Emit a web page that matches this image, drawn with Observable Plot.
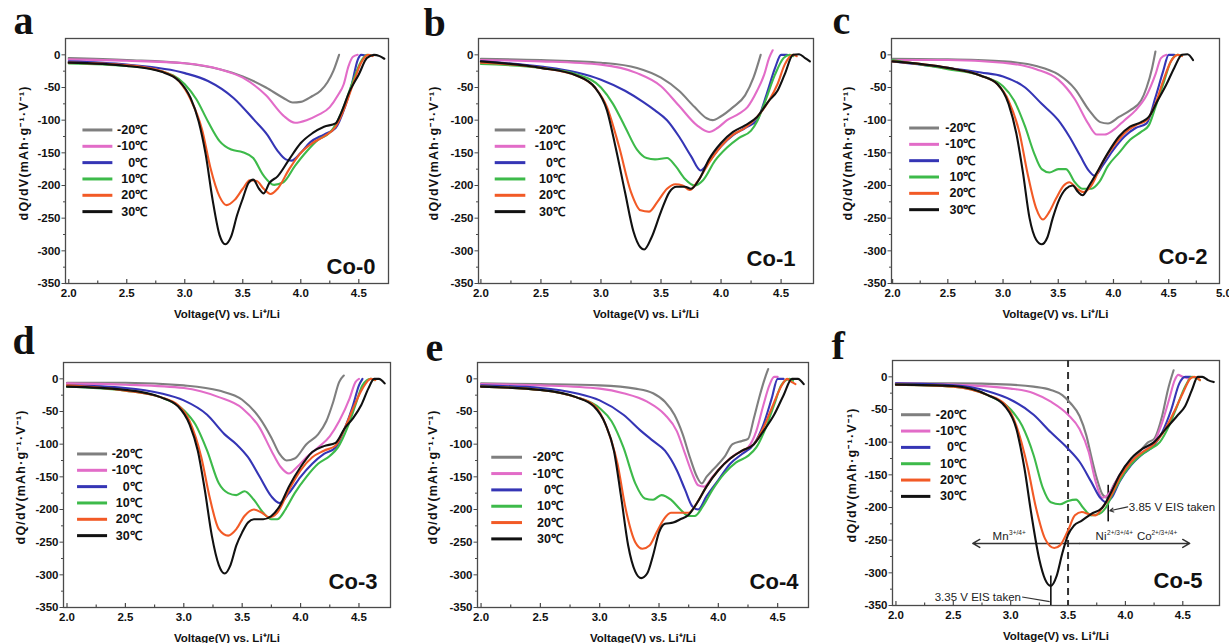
<!DOCTYPE html>
<html><head><meta charset="utf-8">
<script src="https://cdn.jsdelivr.net/npm/d3@7"></script>
<script src="https://cdn.jsdelivr.net/npm/@observablehq/plot@0.6"></script>
<style>
body{margin:0;background:#fff}
#wrap{position:relative;width:1229px;height:643px;overflow:hidden;background:#fff}
#wrap svg{position:absolute}
</style>
</head><body><div id="wrap"></div>
<script>
// ---------- data ----------
const temps = ["-20℃","-10℃","0℃","10℃","20℃","30℃"];
const colors = ["#7f7f7f","#e26cc8","#3535b5","#3dba4a","#f25a26","#111111"];
const sampleNames = ["Co-0","Co-1","Co-2","Co-3","Co-4","Co-5"];
const panelLetters = ["a","b","c","d","e","f"];
const xTicksMajor = [2.0,2.5,3.0,3.5,4.0,4.5];
const xTicksMajorC = [2.0,2.5,3.0,3.5,4.0,4.5,5.0];
const yTicksMajor = [-350,-300,-250,-200,-150,-100,-50,0];
const yLabel = "dQ/dV(mAh·g⁻¹·V⁻¹)";
const xLabel = "Voltage(V) vs. Li⁺/Li";
const eisVoltages = [3.35, 3.85];
const eisLabels = ["3.35 V EIS taken", "3.85 V EIS taken"];
const dividerVoltage = 3.5;
const ionLabels = [["Mn","3+/4+"],["Ni","2+/3+/4+"],["Co","2+/3+/4+"]];

// curves: order -20,-10,0,10,20,30 ℃ ; [voltage, dQ/dV]
const co0 = [
 [[2.0,-5],[2.5,-8],[3.0,-13],[3.3,-22],[3.5,-33],[3.7,-50],[3.85,-66],[3.93,-73],[4.0,-72],[4.1,-63],[4.17,-55],[4.23,-42],[4.28,-25],[4.33,0]],
 [[2.0,-7],[2.5,-9],[3.0,-13],[3.3,-22],[3.5,-35],[3.7,-62],[3.85,-93],[3.95,-104],[4.05,-100],[4.15,-92],[4.25,-80],[4.32,-62],[4.37,-45],[4.41,-18],[4.45,-3],[4.49,0]],
 [[2.0,-10],[2.5,-15],[3.0,-28],[3.2,-40],[3.42,-66],[3.6,-100],[3.71,-122],[3.8,-147],[3.87,-160],[3.92,-162],[4.0,-150],[4.08,-134],[4.2,-122],[4.3,-112],[4.38,-80],[4.44,-45],[4.49,-8],[4.52,0],[4.56,-1]],
 [[2.0,-13],[2.5,-17],[2.8,-25],[3.0,-45],[3.1,-68],[3.2,-102],[3.3,-132],[3.4,-145],[3.5,-149],[3.59,-158],[3.68,-185],[3.77,-199],[3.85,-195],[3.95,-170],[4.05,-148],[4.15,-130],[4.25,-119],[4.3,-107],[4.38,-75],[4.45,-40],[4.52,-10],[4.57,0],[4.6,-1]],
 [[2.0,-12],[2.5,-16],[2.8,-25],[2.95,-40],[3.05,-68],[3.15,-115],[3.22,-172],[3.3,-217],[3.36,-230],[3.43,-222],[3.5,-205],[3.56,-192],[3.62,-193],[3.68,-205],[3.74,-213],[3.8,-205],[3.9,-175],[4.0,-150],[4.1,-135],[4.2,-125],[4.3,-110],[4.38,-80],[4.45,-45],[4.52,-12],[4.58,0],[4.62,-2]],
 [[2.0,-12],[2.5,-17],[2.8,-26],[2.95,-40],[3.05,-66],[3.12,-102],[3.18,-152],[3.24,-222],[3.3,-276],[3.35,-290],[3.4,-278],[3.45,-246],[3.5,-220],[3.55,-196],[3.59,-191],[3.64,-205],[3.68,-212],[3.73,-196],[3.8,-186],[3.9,-160],[4.0,-135],[4.1,-120],[4.2,-110],[4.3,-105],[4.35,-88],[4.42,-56],[4.5,-30],[4.57,-5],[4.63,0],[4.68,-2],[4.72,-6]]
];
const co1 = [
 [[2.0,-6],[2.5,-8],[3.0,-12],[3.3,-20],[3.5,-35],[3.65,-55],[3.78,-80],[3.88,-97],[3.93,-100],[4.0,-94],[4.1,-80],[4.2,-62],[4.27,-35],[4.33,0]],
 [[2.0,-8],[2.5,-10],[3.0,-15],[3.3,-28],[3.5,-48],[3.65,-78],[3.8,-108],[3.9,-118],[3.97,-112],[4.05,-100],[4.15,-90],[4.22,-80],[4.3,-55],[4.36,-30],[4.4,-5],[4.43,7]],
 [[2.0,-10],[2.5,-18],[2.8,-27],[3.0,-38],[3.2,-55],[3.35,-72],[3.45,-85],[3.55,-100],[3.65,-125],[3.75,-155],[3.83,-177],[3.9,-163],[4.0,-140],[4.1,-123],[4.2,-112],[4.3,-100],[4.38,-60],[4.45,-20],[4.5,0],[4.55,0]],
 [[2.0,-14],[2.5,-20],[2.8,-30],[3.0,-50],[3.1,-75],[3.2,-110],[3.3,-145],[3.38,-158],[3.45,-160],[3.55,-158],[3.62,-170],[3.7,-190],[3.78,-200],[3.85,-192],[3.95,-162],[4.05,-142],[4.15,-127],[4.25,-116],[4.3,-102],[4.37,-70],[4.45,-30],[4.52,-5],[4.57,0],[4.6,-2]],
 [[2.0,-12],[2.5,-20],[2.8,-32],[2.95,-50],[3.05,-80],[3.15,-140],[3.25,-210],[3.33,-238],[3.4,-240],[3.47,-225],[3.55,-205],[3.62,-198],[3.68,-200],[3.74,-207],[3.8,-195],[3.9,-165],[4.0,-140],[4.1,-122],[4.2,-112],[4.3,-95],[4.4,-70],[4.47,-45],[4.53,-15],[4.6,0],[4.63,-2]],
 [[2.0,-10],[2.5,-20],[2.8,-32],[2.95,-50],[3.05,-85],[3.12,-140],[3.2,-210],[3.27,-270],[3.33,-295],[3.36,-298],[3.42,-280],[3.5,-240],[3.57,-210],[3.63,-202],[3.7,-202],[3.75,-205],[3.82,-190],[3.9,-160],[4.0,-135],[4.1,-118],[4.2,-108],[4.3,-95],[4.4,-70],[4.47,-55],[4.53,-30],[4.6,0],[4.65,1],[4.7,-5],[4.74,-10]]
];
const co2 = [
 [[2.0,-6],[2.5,-7],[3.0,-10],[3.3,-17],[3.5,-30],[3.65,-52],[3.78,-85],[3.88,-103],[3.95,-105],[4.05,-95],[4.15,-85],[4.25,-70],[4.3,-50],[4.35,-20],[4.38,5]],
 [[2.0,-8],[2.5,-8],[3.0,-12],[3.3,-22],[3.5,-38],[3.65,-68],[3.77,-105],[3.85,-122],[3.92,-122],[4.0,-115],[4.1,-100],[4.2,-85],[4.3,-62],[4.38,-30],[4.43,-5],[4.48,0]],
 [[2.0,-10],[2.5,-20],[2.8,-27],[3.0,-33],[3.2,-50],[3.35,-75],[3.5,-100],[3.6,-125],[3.7,-155],[3.78,-178],[3.83,-185],[3.9,-170],[4.0,-145],[4.1,-125],[4.2,-112],[4.3,-105],[4.38,-65],[4.45,-25],[4.5,0],[4.55,0]],
 [[2.0,-8],[2.5,-22],[2.8,-32],[3.0,-48],[3.1,-70],[3.2,-110],[3.28,-150],[3.35,-175],[3.42,-180],[3.5,-175],[3.57,-175],[3.65,-195],[3.72,-205],[3.8,-205],[3.87,-195],[3.95,-170],[4.05,-150],[4.15,-130],[4.25,-118],[4.32,-108],[4.38,-80],[4.45,-45],[4.52,-10],[4.58,0],[4.62,-1]],
 [[2.0,-10],[2.5,-20],[2.8,-32],[2.95,-45],[3.05,-70],[3.15,-120],[3.22,-180],[3.3,-235],[3.36,-252],[3.42,-240],[3.48,-220],[3.55,-200],[3.6,-195],[3.67,-205],[3.73,-210],[3.8,-200],[3.9,-165],[4.0,-140],[4.1,-120],[4.2,-108],[4.3,-100],[4.38,-75],[4.45,-40],[4.52,-10],[4.58,0],[4.62,-2]],
 [[2.0,-10],[2.5,-20],[2.8,-32],[2.95,-45],[3.05,-75],[3.12,-120],[3.18,-180],[3.24,-250],[3.3,-283],[3.35,-290],[3.4,-280],[3.45,-250],[3.5,-225],[3.57,-205],[3.63,-200],[3.68,-210],[3.72,-215],[3.78,-200],[3.85,-180],[3.95,-150],[4.05,-125],[4.15,-110],[4.25,-103],[4.32,-95],[4.4,-70],[4.48,-45],[4.55,-20],[4.62,0],[4.67,1],[4.72,-8]]
];
const co3 = [
 [[2.0,-6],[2.5,-6],[3.0,-10],[3.3,-18],[3.5,-32],[3.65,-60],[3.75,-90],[3.82,-115],[3.88,-125],[3.95,-122],[4.05,-100],[4.15,-85],[4.22,-65],[4.28,-35],[4.33,-5],[4.37,5]],
 [[2.0,-7],[2.5,-9],[3.0,-14],[3.3,-28],[3.5,-45],[3.65,-75],[3.75,-110],[3.83,-135],[3.9,-145],[3.97,-135],[4.05,-120],[4.15,-105],[4.25,-88],[4.33,-65],[4.42,-30],[4.47,-5],[4.5,0]],
 [[2.0,-10],[2.5,-14],[2.8,-22],[3.0,-33],[3.2,-55],[3.35,-85],[3.45,-100],[3.55,-120],[3.65,-150],[3.75,-180],[3.82,-190],[3.9,-175],[4.0,-150],[4.1,-130],[4.2,-115],[4.3,-105],[4.38,-75],[4.45,-40],[4.5,-10],[4.53,0]],
 [[2.0,-12],[2.5,-18],[2.8,-28],[3.0,-48],[3.1,-70],[3.2,-110],[3.3,-160],[3.38,-175],[3.45,-178],[3.52,-172],[3.6,-185],[3.68,-205],[3.75,-215],[3.8,-215],[3.87,-200],[3.95,-175],[4.05,-150],[4.15,-130],[4.25,-118],[4.32,-105],[4.4,-75],[4.47,-40],[4.53,-10],[4.6,0],[4.63,-2]],
 [[2.0,-10],[2.5,-18],[2.8,-28],[2.95,-40],[3.05,-65],[3.15,-120],[3.22,-180],[3.3,-230],[3.38,-240],[3.45,-230],[3.52,-210],[3.6,-200],[3.67,-205],[3.73,-212],[3.8,-205],[3.9,-170],[4.0,-140],[4.1,-120],[4.2,-110],[4.3,-102],[4.38,-75],[4.45,-45],[4.53,-15],[4.6,0],[4.64,-2]],
 [[2.0,-12],[2.5,-17],[2.8,-28],[2.95,-42],[3.05,-70],[3.12,-110],[3.18,-170],[3.24,-240],[3.3,-285],[3.35,-298],[3.4,-285],[3.45,-255],[3.5,-235],[3.55,-220],[3.6,-215],[3.68,-215],[3.75,-210],[3.82,-195],[3.9,-165],[4.0,-135],[4.1,-112],[4.2,-103],[4.3,-98],[4.38,-75],[4.45,-60],[4.52,-40],[4.58,-15],[4.63,0],[4.67,0],[4.72,-7]]
];
const co4 = [
 [[2.0,-7],[2.5,-8],[3.0,-10],[3.3,-15],[3.45,-22],[3.55,-35],[3.63,-55],[3.7,-85],[3.76,-120],[3.82,-150],[3.86,-160],[3.9,-150],[3.95,-140],[4.05,-120],[4.12,-100],[4.2,-95],[4.25,-92],[4.3,-60],[4.35,-25],[4.4,5],[4.42,15]],
 [[2.0,-8],[2.5,-10],[3.0,-15],[3.2,-22],[3.4,-35],[3.55,-55],[3.65,-80],[3.72,-115],[3.78,-145],[3.83,-163],[3.88,-165],[3.95,-150],[4.05,-130],[4.15,-115],[4.25,-105],[4.32,-80],[4.38,-40],[4.43,-10],[4.47,3],[4.5,3]],
 [[2.0,-10],[2.5,-14],[2.8,-22],[3.0,-33],[3.2,-55],[3.35,-80],[3.45,-95],[3.55,-110],[3.65,-140],[3.72,-170],[3.78,-195],[3.83,-200],[3.9,-180],[4.0,-155],[4.1,-130],[4.2,-115],[4.3,-100],[4.38,-70],[4.45,-30],[4.5,0],[4.55,0]],
 [[2.0,-12],[2.5,-17],[2.8,-28],[3.0,-45],[3.1,-65],[3.2,-105],[3.3,-160],[3.38,-183],[3.45,-185],[3.52,-178],[3.6,-185],[3.68,-200],[3.75,-210],[3.8,-210],[3.87,-195],[3.95,-170],[4.05,-145],[4.15,-128],[4.25,-118],[4.32,-105],[4.4,-75],[4.47,-40],[4.53,-10],[4.6,0],[4.63,-3]],
 [[2.0,-12],[2.5,-17],[2.8,-28],[2.95,-40],[3.05,-70],[3.15,-130],[3.22,-200],[3.3,-250],[3.36,-260],[3.42,-255],[3.48,-235],[3.54,-215],[3.6,-205],[3.68,-205],[3.75,-205],[3.82,-190],[3.9,-165],[4.0,-140],[4.1,-122],[4.2,-110],[4.3,-100],[4.38,-75],[4.45,-45],[4.52,-15],[4.58,0],[4.62,-5],[4.65,-8]],
 [[2.0,-12],[2.5,-17],[2.8,-28],[2.95,-42],[3.05,-70],[3.12,-110],[3.18,-180],[3.24,-255],[3.3,-295],[3.35,-305],[3.4,-298],[3.45,-270],[3.5,-235],[3.55,-222],[3.62,-220],[3.68,-215],[3.75,-208],[3.82,-190],[3.9,-165],[4.0,-140],[4.1,-122],[4.2,-110],[4.3,-100],[4.38,-80],[4.47,-55],[4.55,-25],[4.62,0],[4.67,0],[4.72,-8]]
];
const co5 = [
 [[2.0,-10],[2.5,-10],[3.0,-12],[3.2,-15],[3.35,-20],[3.45,-28],[3.52,-40],[3.6,-60],[3.66,-90],[3.7,-120],[3.75,-155],[3.8,-180],[3.84,-185],[3.9,-165],[4.0,-140],[4.1,-120],[4.2,-100],[4.25,-95],[4.32,-60],[4.37,-20],[4.42,10]],
 [[2.0,-10],[2.5,-12],[3.0,-18],[3.2,-25],[3.35,-38],[3.5,-58],[3.6,-80],[3.68,-115],[3.74,-160],[3.8,-185],[3.85,-180],[3.95,-150],[4.05,-130],[4.15,-115],[4.25,-100],[4.32,-70],[4.38,-35],[4.43,-5],[4.46,3],[4.5,0],[4.55,-3]],
 [[2.0,-10],[2.5,-13],[2.8,-22],[3.0,-35],[3.2,-58],[3.35,-85],[3.5,-110],[3.6,-130],[3.7,-160],[3.78,-185],[3.83,-192],[3.88,-185],[3.95,-160],[4.05,-135],[4.15,-118],[4.25,-105],[4.32,-85],[4.4,-50],[4.47,-10],[4.52,0],[4.57,0]],
 [[2.0,-12],[2.5,-15],[2.8,-28],[3.0,-50],[3.1,-75],[3.2,-120],[3.28,-170],[3.35,-192],[3.43,-195],[3.5,-190],[3.57,-188],[3.63,-200],[3.7,-212],[3.77,-210],[3.83,-200],[3.9,-175],[4.0,-145],[4.1,-125],[4.2,-112],[4.3,-100],[4.38,-75],[4.45,-45],[4.52,-15],[4.58,0],[4.62,-2],[4.65,-5]],
 [[2.0,-12],[2.5,-15],[2.8,-28],[2.95,-42],[3.05,-75],[3.15,-140],[3.22,-200],[3.3,-248],[3.38,-262],[3.43,-258],[3.5,-235],[3.56,-212],[3.62,-207],[3.68,-210],[3.74,-212],[3.8,-200],[3.88,-180],[3.95,-155],[4.05,-130],[4.15,-115],[4.25,-103],[4.33,-85],[4.42,-55],[4.5,-25],[4.57,-2],[4.6,0],[4.65,-5]],
 [[2.0,-12],[2.5,-14],[2.8,-28],[2.95,-45],[3.05,-80],[3.12,-140],[3.18,-210],[3.25,-280],[3.3,-310],[3.35,-320],[3.4,-305],[3.45,-270],[3.5,-242],[3.55,-228],[3.62,-220],[3.7,-210],[3.8,-200],[3.88,-175],[3.95,-150],[4.05,-125],[4.15,-110],[4.25,-100],[4.35,-80],[4.45,-60],[4.52,-45],[4.58,-20],[4.63,0],[4.67,0],[4.72,-5],[4.77,-8]]
];
const panelCurves = [co0, co1, co2, co3, co4, co5];

// ---------- layout (pixels / placement only) ----------
// m: [top, right, bottom, left]; leg: [lineX1, lineX2, textX, firstRowY]
const layout = [
 {left:0,   top:0,   w:410, h:322, m:[38,22,39,65], xd:[1.972,4.756], leg:[2.118,2.376,2.676,-115], name:[-13,-10], letter:[-52,-5], ylab:-42},
 {left:410, top:0,   w:410, h:322, m:[38,7,39,68],  xd:[1.98,4.77],   leg:[2.115,2.37,2.70,-115],  name:[-18,-18], letter:[-55,-3], ylab:-45},
 {left:819, top:0,   w:410, h:322, m:[38,10,39,72], xd:[1.99,4.96],   leg:[2.15,2.42,2.75,-112],   name:[-12,-20], letter:[-59,-5], ylab:-44},
 {left:0,   top:321, w:410, h:322, m:[41,20,36,63], xd:[1.97,4.77],   leg:[2.086,2.343,2.64,-115], name:[-13,-19], letter:[-51,-9], ylab:-43},
 {left:410, top:321, w:410, h:322, m:[41,12,36,67], xd:[1.97,4.76],   leg:[2.086,2.345,2.69,-120], name:[-10,-19], letter:[-52,-2], ylab:-45},
 {left:819, top:321, w:410, h:322, m:[39,10,38,73], xd:[1.97,4.82],   leg:[2.044,2.30,2.61,-58],   name:[-17,-18], letter:[-61,-2], ylab:-41}
];

const AX = "#4a4a4a";
const wrap = document.getElementById("wrap");

function annotationsF() {
  const ink = "#333";
  return [
    Plot.ruleX([dividerVoltage], {x: d => d, stroke: ink, strokeWidth: 2, strokeDasharray: "7,5"}),
    Plot.ruleX([eisVoltages[0]], {x: d => d, y1: -350, y2: -305, stroke: "#111", strokeWidth: 1.6}),
    Plot.ruleX([eisVoltages[1]], {x: d => d, y1: -222, y2: -166, stroke: "#111", strokeWidth: 1.6}),
    Plot.arrow([2.67, 4.56], {x1: 3.6, y1: -255, x2: d => d, y2: -255, stroke: ink, strokeWidth: 1.5, headLength: 8, bend: 0}),
    Plot.text([eisLabels[0]], {x: 3.09, y: -337, text: d => d, textAnchor: "end", fontSize: 11.5, fontWeight: "normal", fill: "#222"}),
    Plot.link([0], {x1: 3.10, y1: -337, x2: eisVoltages[0] - 0.01, y2: -344, stroke: ink, strokeWidth: 1.2}),
    Plot.text([eisLabels[1]], {x: 4.03, y: -199, text: d => d, textAnchor: "start", fontSize: 11.5, fontWeight: "normal", fill: "#222"}),
    Plot.arrow([0], {x1: 4.02, y1: -199, x2: eisVoltages[1] + 0.015, y2: -205, stroke: ink, strokeWidth: 1.2, headLength: 5, bend: 0}),
    Plot.text([ionLabels[0][0]], {x: 2.842, y: -249, text: d => d, textAnchor: "start", lineAnchor: "bottom", fontSize: 11.5, fontWeight: "normal", fill: "#222"}),
    Plot.text([ionLabels[0][1]], {x: 2.842, y: -249, dx: 16.5, dy: -5, text: d => d, textAnchor: "start", lineAnchor: "bottom", fontSize: 6.5, fontWeight: "normal", fill: "#222"}),
    Plot.text([ionLabels[1][0]], {x: 3.74, y: -249, text: d => d, textAnchor: "start", lineAnchor: "bottom", fontSize: 11.5, fontWeight: "normal", fill: "#222"}),
    Plot.text([ionLabels[1][1]], {x: 3.74, y: -249, dx: 11.5, dy: -5, text: d => d, textAnchor: "start", lineAnchor: "bottom", fontSize: 6.5, fontWeight: "normal", fill: "#222"}),
    Plot.text([ionLabels[2][0]], {x: 4.10, y: -249, text: d => d, textAnchor: "start", lineAnchor: "bottom", fontSize: 11.5, fontWeight: "normal", fill: "#222"}),
    Plot.text([ionLabels[2][1]], {x: 4.10, y: -249, dx: 14.5, dy: -5, text: d => d, textAnchor: "start", lineAnchor: "bottom", fontSize: 6.5, fontWeight: "normal", fill: "#222"})
  ];
}

panelCurves.forEach((curves, idx) => {
  const L = layout[idx];
  const [mt, mr, mb, ml] = L.m;
  const fh = L.h - mt - mb;
  const fw = L.w - ml - mr;
  const xt = idx === 2 ? xTicksMajorC : xTicksMajor;
  const minorX = xt.slice(0, -1).map(v => v + 0.25).filter(v => v < L.xd[1]);
  const minorY = yTicksMajor.slice(0, -1).map(v => v + 25);
  const pts = curves.flatMap((arr, i) => arr.map(([v, q]) => ({v, q, t: temps[i]})));
  const legendRows = temps.map((t, i) => ({t, y: L.leg[3] - i * 25}));
  const xMid = (L.xd[0] + L.xd[1]) / 2;

  const marks = [
    Plot.frame({stroke: AX, strokeWidth: 1.3}),
    Plot.tickX(xt.filter(v => v <= L.xd[1]), {x: d => d, insetTop: fh - 4, stroke: AX, strokeWidth: 1.2}),
    Plot.tickX(minorX, {x: d => d, insetTop: fh - 2.5, stroke: AX, strokeWidth: 1.2}),
    Plot.axisX(xt, {tickSize: 0, tickPadding: 5, tickFormat: d => d.toFixed(1), fontSize: 11.5, label: null}),
    Plot.axisY(yTicksMajor, {tickSize: 3.5, tickPadding: 1.5, tickFormat: d => String(d), fontSize: 11.5, label: null, stroke: AX}),
    Plot.tickY(minorY, {y: d => d, insetLeft: -2, insetRight: fw, stroke: AX}),
    ...(idx === 5 ? annotationsF() : []),
    Plot.line(pts, {x: "v", y: "q", z: "t", stroke: "t", strokeWidth: 2.1, curve: "monotone-x"}),
    Plot.link(legendRows, {x1: L.leg[0], x2: L.leg[1], y1: "y", y2: "y", stroke: "t", strokeWidth: 3}),
    Plot.text(legendRows, {x: L.leg[2], y: "y", text: "t", textAnchor: "end", fontSize: 12.5, fontWeight: "bold", fill: "#111"}),
    Plot.text([sampleNames[idx]], {frameAnchor: "bottom-right", text: d => d, textAnchor: "end", lineAnchor: "bottom", dx: L.name[0], dy: L.name[1], fontSize: 22, fontWeight: "bold", fill: "#111"}),
    Plot.text([panelLetters[idx]], {frameAnchor: "top-left", text: d => d, textAnchor: "start", lineAnchor: "bottom", dx: L.letter[0], dy: L.letter[1], fontSize: 40, fontWeight: "bold", fontFamily: "'Liberation Serif','Times New Roman',serif", fill: "#111"}),
    Plot.text([yLabel], {x: L.xd[0], y: -150, text: d => d, rotate: -90, textAnchor: "middle", lineAnchor: "middle", dx: L.ylab, fontSize: 12.5, fontWeight: "bold", fill: "#111"}),
    Plot.text([xLabel], {x: xMid, y: -350, text: d => d, textAnchor: "middle", lineAnchor: "middle", dy: 31, fontSize: 11.5, fontWeight: "bold", fill: "#111"})
  ];

  const svg = Plot.plot({
    width: L.w, height: L.h,
    marginTop: mt, marginRight: mr, marginBottom: mb, marginLeft: ml,
    x: {domain: L.xd},
    y: {domain: [-350, 25]},
    color: {domain: temps, range: colors},
    style: {fontFamily: "'Liberation Sans', Arial, sans-serif", fontWeight: "bold", fontSize: "11px", overflow: "visible", background: "none", color: "#111"},
    marks
  });
  // widen the y-axis title's letter spacing to match the original typesetting
  svg.querySelectorAll("text").forEach(t => {
    if (t.textContent === yLabel) t.setAttribute("letter-spacing", "1.2");
  });
  svg.style.left = L.left + "px";
  svg.style.top = L.top + "px";
  wrap.appendChild(svg);
});
</script>
</body></html>
